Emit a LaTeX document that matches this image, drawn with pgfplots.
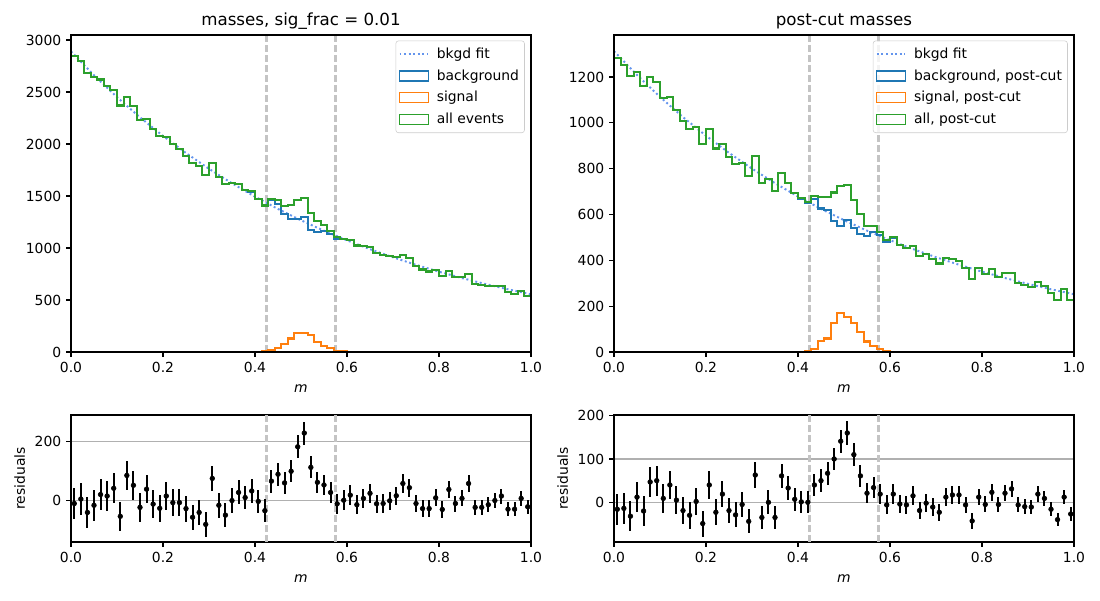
\documentclass[border=0pt]{standalone}
\usepackage{fontspec}
\setmainfont{DejaVu Sans}
\usepackage{pgfplots}
\usepackage{pgfplotstable}
\pgfplotsset{compat=1.18}
\definecolor{mblue}{HTML}{1F77B4}
\definecolor{morange}{HTML}{FF7F0E}
\definecolor{mgreen}{HTML}{2CA02C}
\definecolor{mfit}{HTML}{6495ED}
\definecolor{mvline}{HTML}{C4C4C4}
\definecolor{mgrid}{HTML}{B0B0B0}
\definecolor{mleg}{HTML}{CCCCCC}

\pgfplotstableread{
e all bkg sig
0 0 0 0
0 2847 2847 0
1 2796 2796 0
2 2686 2686 0
3 2646 2646 0
4 2620 2620 0
5 2555 2555 0
6 2522 2522 0
7 2370 2370 0
8 2450 2450 0
9 2362 2362 0
10 2234 2234 0
11 2243 2243 0
12 2142 2142 0
13 2077 2077 0
14 2069 2069 0
15 2000 2000 0
16 1953 1953 0
17 1887 1887 0
18 1814 1814 0
19 1786 1786 0
20 1704 1704 0
21 1816 1816 0
22 1686 1686 0
23 1613 1613 0
24 1623 1623 0
25 1613 1613 0
26 1559 1559 0
27 1545 1543 2
28 1474 1470 4
29 1409 1403 6
30 1474 1459 15
31 1465 1425 40
32 1404 1324 80
33 1411 1281 130
34 1463 1278 185
35 1479 1294 185
36 1335 1175 160
37 1256 1157 99
38 1219 1162 57
39 1167 1132 35
40 1103 1091 12
41 1089 1083 6
42 1080 1078 2
43 1024 1024 0
44 1021 1021 0
45 1014 1014 0
46 956 956 0
47 934 934 0
48 921 921 0
49 917 917 0
50 937 937 0
51 902 902 0
52 829 829 0
53 793 793 0
54 774 774 0
55 791 791 0
56 734 734 0
57 783 783 0
58 719 719 0
59 719 719 0
60 752 752 0
61 656 656 0
62 640 640 0
63 634 634 0
64 633 633 0
65 633 633 0
66 575 575 0
67 561 561 0
68 583 583 0
69 542 542 0
70 542 542 0
70 0 0 0
}\histL

\pgfplotstableread{
e all bkg sig
0 0 0 0
0 1281 1281 0
1 1253 1253 0
2 1205 1205 0
3 1221 1221 0
4 1160 1160 0
5 1200 1200 0
6 1176 1176 0
7 1109 1109 0
8 1114 1114 0
9 1054 1054 0
10 1006 1006 0
11 971 971 0
12 980 980 0
13 906 906 0
14 973 973 0
15 888 888 0
16 909 909 0
17 850 850 0
18 820 820 0
19 824 824 0
20 766 766 0
21 854 854 0
22 737 737 0
23 754 754 0
24 702 702 0
25 781 781 0
26 736 736 0
27 693 692 1
28 671 669 2
29 655 652 3
30 680 667 13
31 675 626 49
32 677 618 59
33 696 571 125
34 723 551 172
35 728 577 151
36 665 539 126
37 603 515 88
38 551 505 46
39 551 524 27
40 524 511 13
41 487 482 5
42 501 499 2
43 467 467 0
44 454 454 0
45 464 464 0
46 420 420 0
47 426 426 0
48 407 407 0
49 386 386 0
50 411 411 0
51 407 407 0
52 398 398 0
53 366 366 0
54 320 320 0
55 367 367 0
56 342 342 0
57 361 361 0
58 326 326 0
59 344 344 0
60 346 346 0
61 302 302 0
62 291 291 0
63 283 283 0
64 306 306 0
65 289 289 0
66 258 258 0
67 227 227 0
68 273 273 0
69 228 228 0
70 228 228 0
70 0 0 0
}\histR

\pgfplotstableread{
x y
0 2890
0.05 2661.1
0.1 2450.4
0.15 2256.3
0.2 2077.6
0.25 1913.1
0.3 1761.6
0.35 1622.1
0.4 1493.6
0.45 1375.3
0.5 1266.4
0.55 1166.1
0.6 1073.8
0.65 988.8
0.7 910.5
0.75 838.4
0.8 772.0
0.85 710.9
0.9 654.6
0.95 602.8
1.0 555.1
}\fitL

\pgfplotstableread{
x y
0 1312.4
0.05 1208.5
0.1 1112.8
0.15 1024.7
0.2 943.5
0.25 868.8
0.3 800.0
0.35 736.6
0.4 678.3
0.45 624.6
0.5 575.1
0.55 529.6
0.6 487.6
0.65 449.0
0.7 413.5
0.75 380.7
0.8 350.6
0.85 322.8
0.9 297.2
0.95 273.7
1.0 252.0
}\fitR

\pgfplotstableread{
k res err
1 -9 53.4
2 6 52.9
3 -39 51.8
4 -15 51.4
5 21 51.2
6 16 50.5
7 42 50.2
8 -52 48.7
9 85 49.5
10 52 48.6
11 -22 47.3
12 39 47.4
13 -11 46.3
14 -25 45.6
15 16 45.5
16 -6 44.7
17 -6 44.2
18 -26 43.4
19 -55 42.6
20 -39 42.3
21 -79 41.3
22 75 42.6
23 -15 41.1
24 -48 40.2
25 1 40.3
26 28 40.2
27 11 39.5
28 33 39.3
29 -2 38.4
30 -33 37.5
31 66 38.4
32 89 38.3
33 60 37.5
34 99 37.6
35 181 38.2
36 227 38.5
37 112 36.5
38 62 35.4
39 53 34.9
40 28 34.2
41 -10 33.2
42 2 33.0
43 19 32.9
44 -13 32.0
45 8 32.0
46 25 31.8
47 -10 30.9
48 -9 30.6
49 0 30.3
50 17 30.3
51 58 30.6
52 44 30.0
53 -9 28.8
54 -26 28.2
55 -26 27.8
56 10 28.1
57 -29 27.1
58 38 28.0
59 -9 26.8
60 8 26.8
61 58 27.4
62 -22 25.6
63 -22 25.3
64 -13 25.2
65 1 25.2
66 16 25.2
67 -28 24.0
68 -28 23.7
69 8 24.1
70 -20 23.3
}\resL

\pgfplotstableread{
k res err
1 -16 35.8
2 -14 35.4
3 -32 34.7
4 12 34.9
5 -20 34.1
6 47 34.6
7 50 34.3
8 9 33.3
9 40 33.4
10 5 32.5
11 -19 31.7
12 -30 31.2
13 2 31.3
14 -49 30.1
15 40 31.2
16 -23 29.8
17 19 30.1
18 -19 29.2
19 -29 28.6
20 -5 28.7
21 -44 27.7
22 63 29.2
23 -35 27.1
24 0 27.5
25 -35 26.5
26 61 27.9
27 33 27.1
28 7 26.3
29 1 25.9
30 0 25.6
31 40 26.1
32 50 26.0
33 67 26.0
34 100 26.4
35 141 26.9
36 160 27.0
37 110 25.8
38 61 24.6
39 21 23.5
40 34 23.5
41 19 22.9
42 -6 22.1
43 19 22.4
44 -4 21.6
45 -6 21.3
46 15 21.5
47 -19 20.5
48 -2 20.6
49 -11 20.2
50 -23 19.6
51 12 20.3
52 17 20.2
53 17 20.0
54 -6 19.1
55 -43 17.9
56 12 19.2
57 -5 18.5
58 23 19.0
59 -5 18.1
60 21 18.5
61 31 18.6
62 -6 17.4
63 -10 17.1
64 -11 16.8
65 19 17.5
66 9 17.0
67 -16 16.1
68 -40 15.1
69 12 16.5
70 -27 15.1
}\resR

\pgfplotsset{
  mpl/.style={
    scale only axis, width=331.2pt,
    xmin=0, xmax=1,
    axis line style={line width=0.8pt, black},
    tick align=outside, tick pos=left,
    major tick length=3.5pt,
    every tick/.style={black, line width=0.8pt},
    tick label style={font=\fontsize{10}{12}\selectfont},
    label style={font=\fontsize{10}{12}\selectfont},
    xlabel style={yshift=-2pt},
    title style={font=\fontsize{12}{14.4}\selectfont, yshift=-5.5pt},
    /pgf/number format/assume math mode=true,
    /pgf/number format/1000 sep={},
    scaled ticks=false,
    xtick={0,0.2,0.4,0.6,0.8,1},
    xticklabel style={/pgf/number format/fixed, /pgf/number format/fixed zerofill, /pgf/number format/precision=1},
    xlabel={\textit{m}},
    legend cell align=left,
    legend style={at={(1,1)}, anchor=north east, xshift=-4.5pt, yshift=-4pt,
      draw=mleg, rounded corners=2pt, fill=white, fill opacity=0.8, draw opacity=1,
      text opacity=1, font=\fontsize{10}{12}\selectfont, row sep=2.6pt,
      column sep=3.5pt, inner xsep=2pt, inner ysep=3pt},
  },
  hist/.style={const plot, line width=1.5pt,
    legend image code/.code={\draw[##1, sharp corners, line width=0.9pt] (0pt,-3.6pt) rectangle (20.6pt,3.6pt);}},
  fitline/.style={mfit, line width=1.4pt, dash pattern=on 1.4pt off 1.9pt,
    legend image code/.code={\draw[##1, sharp corners] (0pt,0pt) -- (20.6pt,0pt);}},
  vcut/.style={mvline, line width=1.5pt, dash pattern=on 5pt off 2.2pt, forget plot},
  resid/.style={only marks, mark=*, black, mark size=1.7pt,
    mark options={fill=black, draw=black},
    error bars/.cd, y dir=both, y explicit,
    error bar style={line width=1.5pt, black}, error mark=none},
}

\begin{document}
\begin{tikzpicture}
\path[use as bounding box] (0,0) rectangle (792pt,432pt);

% top left
\begin{axis}[mpl, at={(51.12pt,178.56pt)}, anchor=south west, height=228.24pt,
  ymin=0, ymax=3048, ytick={0,500,1000,1500,2000,2500,3000},
  title={masses, sig\_frac = 0.01}, axis on top]
\addplot[vcut] coordinates {(0.425,0) (0.425,3048)};
\addplot[vcut] coordinates {(0.575,0) (0.575,3048)};
\addplot[fitline] table[x=x, y=y] {\fitL};
\addlegendentry{bkgd fit}
\addplot[hist, mblue] table[x expr=\thisrow{e}/70, y=bkg] {\histL};
\addlegendentry{background}
\addplot[hist, morange] table[x expr=\thisrow{e}/70, y=sig] {\histL};
\addlegendentry{signal}
\addplot[hist, mgreen] table[x expr=\thisrow{e}/70, y=all] {\histL};
\addlegendentry{all events}
\end{axis}

% top right
\begin{axis}[mpl, at={(442.08pt,178.56pt)}, anchor=south west, height=228.24pt,
  ymin=0, ymax=1383, ytick={0,200,400,600,800,1000,1200},
  title={post-cut masses}, axis on top]
\addplot[vcut] coordinates {(0.425,0) (0.425,1383)};
\addplot[vcut] coordinates {(0.575,0) (0.575,1383)};
\addplot[fitline] table[x=x, y=y] {\fitR};
\addlegendentry{bkgd fit}
\addplot[hist, mblue] table[x expr=\thisrow{e}/70, y=bkg] {\histR};
\addlegendentry{background, post-cut}
\addplot[hist, morange] table[x expr=\thisrow{e}/70, y=sig] {\histR};
\addlegendentry{signal, post-cut}
\addplot[hist, mgreen] table[x expr=\thisrow{e}/70, y=all] {\histR};
\addlegendentry{all, post-cut}
\end{axis}

% bottom left
\begin{axis}[mpl, at={(51.12pt,41.76pt)}, anchor=south west, height=91.44pt,
  ymin=-138, ymax=287.5, ytick={0,200}, ymajorgrids,
  grid style={mgrid, line width=0.8pt}, ylabel={residuals}]
\addplot[vcut] coordinates {(0.425,-138) (0.425,287.5)};
\addplot[vcut] coordinates {(0.575,-138) (0.575,287.5)};
\addplot[resid] table[x expr=(\thisrow{k}-0.5)/70, y=res, y error=err] {\resL};
\end{axis}

% bottom right
\begin{axis}[mpl, at={(442.08pt,41.76pt)}, anchor=south west, height=91.44pt,
  ymin=-91.6, ymax=201.5, ytick={0,100,200}, ymajorgrids,
  grid style={mgrid, line width=0.8pt}, ylabel={residuals}]
\addplot[vcut] coordinates {(0.425,-91.6) (0.425,201.5)};
\addplot[vcut] coordinates {(0.575,-91.6) (0.575,201.5)};
\addplot[resid] table[x expr=(\thisrow{k}-0.5)/70, y=res, y error=err] {\resR};
\end{axis}
\end{tikzpicture}
\end{document}
